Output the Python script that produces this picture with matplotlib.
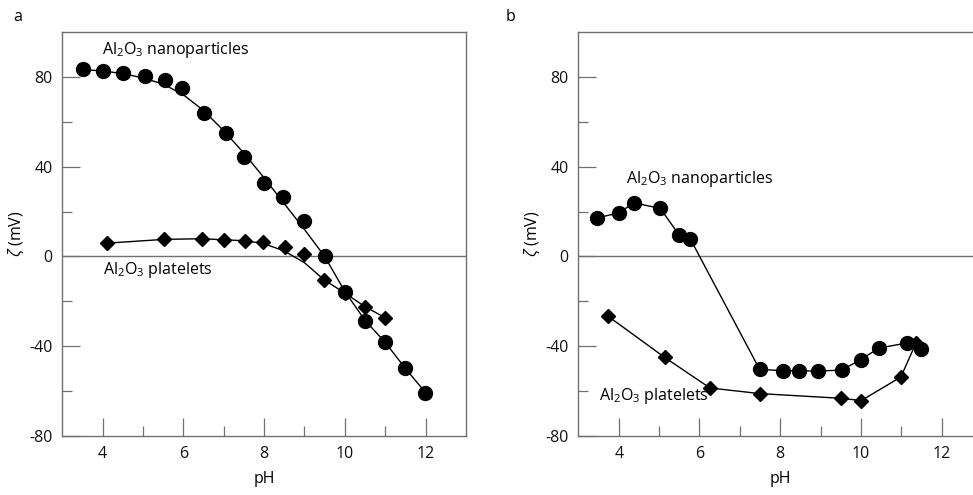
import matplotlib
matplotlib.use("Agg")
import matplotlib.pyplot as plt

plt.rcParams['font.family'] = ['Open Sans', 'DejaVu Sans']
plt.rcParams['mathtext.fontset'] = 'custom'
plt.rcParams['mathtext.rm'] = 'Open Sans'
plt.rcParams['mathtext.it'] = 'Open Sans:italic'
plt.rcParams['axes.unicode_minus'] = False

# panel a - nanoparticles
a_np_ph = [3.51, 4.0, 4.5, 5.05, 5.54, 5.96, 6.5, 7.05, 7.5, 8.0, 8.46, 9.0, 9.5, 10.0, 10.5, 11.0, 11.48, 11.98]
a_np_z = [83.3, 82.8, 81.9, 80.6, 78.4, 75.2, 64.1, 54.8, 44.5, 32.5, 26.7, 16.0, 0.0, -15.9, -28.8, -38.2, -49.9, -60.7]
# trend line
a_np_fit_ph = [3.5, 4.0, 4.5, 5.0, 5.5, 6.0, 6.5, 7.0, 7.5, 8.0, 8.5, 9.0, 9.5, 10.0, 10.5, 11.0, 11.5, 12.0]
a_np_fit_z = [83.3, 82.6, 81.5, 79.5, 76.8, 72.0, 65.0, 56.0, 46.0, 35.0, 23.5, 12.0, 0.0, -15.6, -28.5, -38.3, -49.9, -60.7]

# panel a - platelets
a_pl_ph = [4.1, 5.52, 6.47, 7.0, 7.52, 7.98, 8.51, 9.0, 9.49, 10.0, 10.5, 11.0]
a_pl_z = [5.9, 7.6, 7.9, 7.4, 7.0, 6.5, 4.2, 0.9, -10.5, -16.3, -22.4, -27.3]
a_pl_fit_ph = [4.1, 5.52, 6.47, 7.0, 7.52, 7.98, 8.5, 9.0, 9.49, 10.0, 10.5, 11.0]
a_pl_fit_z = [5.9, 7.6, 7.9, 7.4, 7.0, 5.8, 2.4, -2.8, -10.5, -16.3, -22.4, -27.3]

# panel b - nanoparticles
b_np_ph = [3.47, 4.01, 4.37, 5.03, 5.49, 5.77, 7.49, 8.07, 8.46, 8.93, 9.53, 9.99, 10.45, 11.13, 11.48]
b_np_z = [17.2, 19.4, 23.9, 21.4, 9.7, 7.9, -50.3, -50.9, -50.9, -51.1, -50.6, -46.0, -40.8, -38.6, -41.1]

# panel b - platelets
b_pl_ph = [3.74, 5.14, 6.26, 7.49, 9.5, 10.01, 10.99, 11.36]
b_pl_z = [-26.7, -45.0, -58.6, -61.1, -63.2, -64.2, -53.7, -38.7]

xticks = [4, 6, 8, 10, 12]
yticks = [-80, -40, 0, 40, 80]

label_np = r'Al$_2$O$_3$ nanoparticles'
label_pl = r'Al$_2$O$_3$ platelets'

fig = plt.figure(figsize=(9.73, 4.95), dpi=100)
ax1 = fig.add_axes([0.064, 0.1192, 0.4149, 0.8162])
ax2 = fig.add_axes([0.5944, 0.1192, 0.4149, 0.8162])

grey = '#707070'
fs = 11.5


def style(ax):
    ax.set_xlim(3, 13)
    ax.set_ylim(-80, 100)
    ax.axhline(0, color=grey, lw=1.0, zorder=1)
    ax.set_xticks(xticks)
    ax.set_xticks([5, 7, 9, 11], minor=True)
    ax.set_yticks(yticks)
    ax.set_yticks([-60, -20, 20, 60], minor=True)
    ax.tick_params(which='major', direction='in', length=13, width=0.9, color=grey,
                   labelsize=fs, pad=7, labelcolor='#111111')
    ax.tick_params(which='minor', direction='in', length=7, width=0.9, color=grey)
    for s in ax.spines.values():
        s.set_color(grey)
        s.set_linewidth(1.0)
    ax.set_xlabel('pH', fontsize=fs, labelpad=7)
    ax.set_ylabel(r'$\zeta$ (mV)', fontsize=fs, labelpad=2)


style(ax1)
style(ax2)

# panel a
ax1.plot(a_np_fit_ph, a_np_fit_z, color='black', lw=1.0, zorder=2)
ax1.plot(a_np_ph, a_np_z, 'o', color='black', ms=10, zorder=3)
ax1.plot(a_pl_fit_ph, a_pl_fit_z, color='black', lw=1.0, zorder=2)
ax1.plot(a_pl_ph, a_pl_z, 'D', color='black', ms=7, zorder=3)
ax1.text(3.98, 92, label_np, fontsize=fs, va='center', ha='left')
ax1.text(4.0, -6, label_pl, fontsize=fs, va='center', ha='left')

# panel b
ax2.plot(b_np_ph, b_np_z, '-o', color='black', lw=1.0, ms=10)
ax2.plot(b_pl_ph, b_pl_z, '-D', color='black', lw=1.0, ms=7)
ax2.text(4.19, 34.5, label_np, fontsize=fs, va='center', ha='left')
ax2.text(3.5, -62, label_pl, fontsize=fs, va='center', ha='left')

fig.text(18 / 973, 1 - 17 / 495, 'a', fontsize=fs, va='center', ha='center')
fig.text(511 / 973, 1 - 17 / 495, 'b', fontsize=fs, va='center', ha='center')

fig.savefig('out.png', dpi=100)
